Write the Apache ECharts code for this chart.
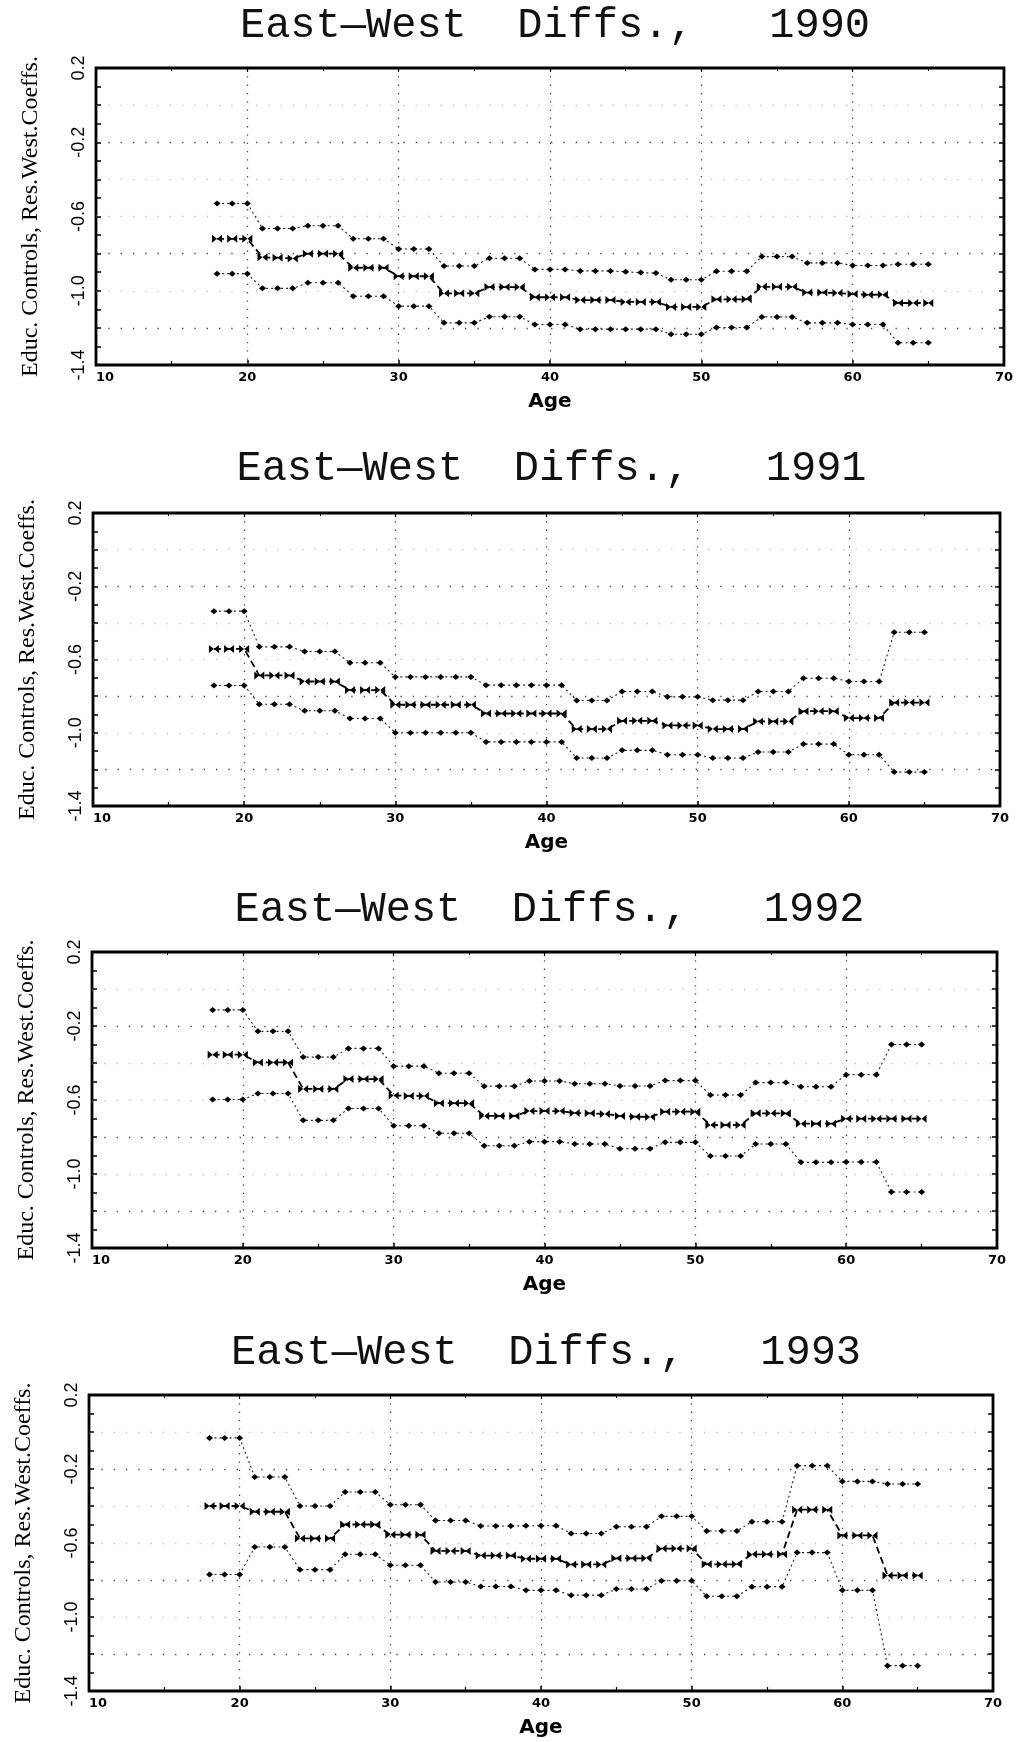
<!DOCTYPE html>
<html>
<head>
<meta charset="utf-8">
<title>East-West Diffs., 1990-1993</title>
<script src="https://cdn.jsdelivr.net/npm/echarts@6/dist/echarts.min.js"></script>
<style>
  html, body { margin: 0; padding: 0; background: #fff; }
  #chart { width: 1016px; height: 1742px; }
</style>
</head>
<body>
<div id="chart"></div>
<script>
// Ages of the respondents (x values shared by every panel)
const AGES = [18,19,20,21,22,23,24,25,26,27,28,29,30,31,32,33,34,35,36,37,38,39,40,41,
              42,43,44,45,46,47,48,49,50,51,52,53,54,55,56,57,58,59,60,61,62,63,64,65];

// Axis ticks
const X_TICKS = [10, 20, 30, 40, 50, 60, 70];
const Y_LABELS = [-1.4, -1.0, -0.6, -0.2, 0.2];

// 1990: upper band, estimate, lower band
const UPPER_1990 = [-0.53,-0.53,-0.53,-0.665,-0.665,-0.665,-0.65,-0.65,-0.65,-0.72,-0.72,-0.72,
  -0.775,-0.775,-0.775,-0.867,-0.867,-0.867,-0.825,-0.825,-0.825,-0.885,-0.885,-0.885,
  -0.893,-0.893,-0.893,-0.898,-0.902,-0.905,-0.941,-0.941,-0.941,-0.895,-0.895,-0.895,
  -0.816,-0.816,-0.816,-0.85,-0.85,-0.85,-0.864,-0.864,-0.864,-0.857,-0.857,-0.857];
const MID_1990 = [-0.72,-0.72,-0.72,-0.82,-0.822,-0.826,-0.80,-0.80,-0.80,-0.876,-0.876,-0.876,
  -0.922,-0.922,-0.922,-1.014,-1.014,-1.014,-0.98,-0.98,-0.98,-1.035,-1.035,-1.035,
  -1.05,-1.05,-1.05,-1.06,-1.06,-1.06,-1.087,-1.087,-1.087,-1.046,-1.046,-1.046,
  -0.979,-0.979,-0.979,-1.01,-1.01,-1.012,-1.018,-1.022,-1.02,-1.066,-1.066,-1.066];
const LOWER_1990 = [-0.908,-0.908,-0.908,-0.987,-0.987,-0.987,-0.957,-0.957,-0.957,-1.03,-1.03,-1.03,
  -1.083,-1.083,-1.083,-1.173,-1.173,-1.173,-1.14,-1.14,-1.14,-1.182,-1.182,-1.182,
  -1.207,-1.207,-1.207,-1.207,-1.207,-1.207,-1.234,-1.234,-1.234,-1.198,-1.198,-1.198,
  -1.141,-1.141,-1.141,-1.173,-1.173,-1.173,-1.182,-1.182,-1.182,-1.28,-1.28,-1.28];

// 1991
const UPPER_1991 = [-0.336,-0.336,-0.336,-0.531,-0.531,-0.531,-0.556,-0.556,-0.556,-0.618,-0.618,-0.618,
  -0.695,-0.695,-0.695,-0.695,-0.695,-0.695,-0.74,-0.74,-0.74,-0.74,-0.74,-0.74,
  -0.824,-0.824,-0.824,-0.775,-0.775,-0.775,-0.804,-0.804,-0.804,-0.822,-0.822,-0.822,
  -0.775,-0.775,-0.775,-0.702,-0.702,-0.702,-0.72,-0.72,-0.72,-0.451,-0.451,-0.451];
const MID_1991 = [-0.542,-0.542,-0.542,-0.687,-0.687,-0.687,-0.72,-0.72,-0.72,-0.767,-0.767,-0.767,
  -0.847,-0.847,-0.847,-0.847,-0.847,-0.847,-0.895,-0.895,-0.895,-0.895,-0.895,-0.895,
  -0.98,-0.98,-0.98,-0.935,-0.935,-0.935,-0.96,-0.96,-0.96,-0.98,-0.98,-0.98,
  -0.938,-0.938,-0.938,-0.882,-0.882,-0.882,-0.92,-0.92,-0.92,-0.835,-0.835,-0.835];
const LOWER_1991 = [-0.742,-0.742,-0.742,-0.844,-0.844,-0.844,-0.88,-0.88,-0.88,-0.922,-0.922,-0.922,
  -1.0,-1.0,-1.0,-1.0,-1.0,-1.0,-1.05,-1.05,-1.05,-1.05,-1.05,-1.05,
  -1.138,-1.138,-1.138,-1.096,-1.096,-1.096,-1.12,-1.12,-1.12,-1.138,-1.138,-1.138,
  -1.105,-1.105,-1.105,-1.062,-1.062,-1.062,-1.12,-1.12,-1.12,-1.215,-1.215,-1.215];

// 1992
const UPPER_1992 = [-0.113,-0.113,-0.113,-0.229,-0.229,-0.229,-0.368,-0.368,-0.368,-0.321,-0.321,-0.321,
  -0.417,-0.417,-0.417,-0.455,-0.455,-0.455,-0.525,-0.525,-0.525,-0.497,-0.497,-0.497,
  -0.512,-0.512,-0.512,-0.524,-0.524,-0.524,-0.495,-0.495,-0.495,-0.573,-0.573,-0.573,
  -0.506,-0.506,-0.506,-0.528,-0.528,-0.528,-0.463,-0.463,-0.463,-0.30,-0.30,-0.30];
const MID_1992 = [-0.355,-0.355,-0.355,-0.397,-0.397,-0.397,-0.54,-0.54,-0.54,-0.487,-0.487,-0.487,
  -0.575,-0.578,-0.578,-0.617,-0.617,-0.617,-0.686,-0.686,-0.686,-0.66,-0.66,-0.66,
  -0.67,-0.672,-0.675,-0.686,-0.69,-0.692,-0.663,-0.663,-0.663,-0.735,-0.735,-0.735,
  -0.672,-0.672,-0.672,-0.728,-0.728,-0.728,-0.701,-0.701,-0.701,-0.701,-0.701,-0.701];
const LOWER_1992 = [-0.597,-0.597,-0.597,-0.565,-0.565,-0.565,-0.71,-0.71,-0.71,-0.646,-0.646,-0.646,
  -0.739,-0.739,-0.739,-0.78,-0.78,-0.78,-0.847,-0.847,-0.847,-0.825,-0.825,-0.825,
  -0.838,-0.838,-0.838,-0.863,-0.863,-0.863,-0.829,-0.829,-0.829,-0.903,-0.903,-0.903,
  -0.838,-0.838,-0.838,-0.937,-0.937,-0.937,-0.935,-0.935,-0.935,-1.097,-1.097,-1.097];

// 1993
const UPPER_1993 = [-0.032,-0.032,-0.032,-0.243,-0.243,-0.243,-0.40,-0.40,-0.40,-0.324,-0.324,-0.324,
  -0.393,-0.393,-0.393,-0.478,-0.478,-0.478,-0.508,-0.508,-0.508,-0.507,-0.507,-0.507,
  -0.549,-0.549,-0.549,-0.512,-0.512,-0.512,-0.456,-0.456,-0.456,-0.535,-0.535,-0.535,
  -0.485,-0.485,-0.485,-0.182,-0.182,-0.182,-0.267,-0.267,-0.267,-0.281,-0.281,-0.281];
const MID_1993 = [-0.40,-0.40,-0.40,-0.431,-0.431,-0.431,-0.575,-0.575,-0.575,-0.50,-0.50,-0.50,
  -0.555,-0.555,-0.555,-0.643,-0.643,-0.643,-0.668,-0.668,-0.668,-0.685,-0.685,-0.685,
  -0.716,-0.716,-0.716,-0.683,-0.683,-0.683,-0.63,-0.63,-0.63,-0.715,-0.715,-0.715,
  -0.661,-0.661,-0.661,-0.42,-0.42,-0.42,-0.559,-0.559,-0.559,-0.775,-0.775,-0.775];
const LOWER_1993 = [-0.77,-0.77,-0.77,-0.622,-0.622,-0.622,-0.744,-0.744,-0.744,-0.661,-0.661,-0.661,
  -0.72,-0.72,-0.72,-0.811,-0.811,-0.811,-0.835,-0.835,-0.835,-0.856,-0.856,-0.856,
  -0.882,-0.882,-0.882,-0.849,-0.849,-0.849,-0.804,-0.804,-0.804,-0.888,-0.888,-0.888,
  -0.836,-0.836,-0.836,-0.652,-0.652,-0.652,-0.856,-0.856,-0.856,-1.263,-1.263,-1.263];

const TITLES = ['East\u2014West  Diffs.,   1990', 'East\u2014West  Diffs.,   1991',
                'East\u2014West  Diffs.,   1992', 'East\u2014West  Diffs.,   1993'];
const X_NAME = 'Age';
const Y_NAME = 'Educ. Controls, Res.West.Coeffs.';

// Panel layout (pixels) and the series that go into each panel
const PANELS = [
  { title: TITLES[0], titleY: 23,   grid: { left: 96, top: 68,   width: 908, height: 297 }, upper: UPPER_1990, mid: MID_1990, lower: LOWER_1990 },
  { title: TITLES[1], titleY: 466,  grid: { left: 93, top: 513,  width: 907, height: 293 }, upper: UPPER_1991, mid: MID_1991, lower: LOWER_1991 },
  { title: TITLES[2], titleY: 907,  grid: { left: 92, top: 952,  width: 905, height: 296 }, upper: UPPER_1992, mid: MID_1992, lower: LOWER_1992 },
  { title: TITLES[3], titleY: 1350, grid: { left: 89, top: 1395, width: 904, height: 296 }, upper: UPPER_1993, mid: MID_1993, lower: LOWER_1993 }
];

const X_MIN = X_TICKS[0], X_MAX = X_TICKS[X_TICKS.length - 1];
const Y_MIN = Y_LABELS[0], Y_MAX = Y_LABELS[Y_LABELS.length - 1];

const CLEAR = 'rgba(0,0,0,0)';
const GRID_DARK = '#444';
const GRID_LIGHT = '#c4c4c4';
// horizontal rules from -1.4 up to 0.2 in steps of 0.2
const H_RULE_COLORS = [CLEAR, GRID_DARK, GRID_LIGHT, GRID_DARK, GRID_LIGHT, GRID_LIGHT, GRID_DARK, GRID_LIGHT, CLEAR];
const V_RULE_COLORS = [CLEAR, GRID_DARK, GRID_DARK, GRID_DARK, GRID_DARK, GRID_DARK, CLEAR];

const BOWTIE = 'path://M0,0L5,4L0,8ZM10,0L5,4L10,8Z';

function pairs(ys) { return AGES.map((a, i) => [a, ys[i]]); }
function yLabel(v) {
  const isLabel = Y_LABELS.some(t => Math.abs(t - v) < 1e-6);
  return isLabel ? v.toFixed(1) : '';
}

const option = {
  backgroundColor: '#fff',
  animation: false,
  title: [], grid: [], xAxis: [], yAxis: [], series: []
};

PANELS.forEach((p, k) => {
  const g = p.grid;
  option.grid.push({
    left: g.left, top: g.top, width: g.width, height: g.height,
    show: true, borderColor: '#000', borderWidth: 2.8, backgroundColor: 'transparent'
  });
  option.title.push({
    text: p.title,
    left: g.left + g.width / 2, top: p.titleY - 23, textAlign: 'center',
    textStyle: { fontFamily: "'Liberation Mono', 'DejaVu Sans Mono', monospace", fontSize: 42, fontWeight: 'normal', color: '#111' }
  });
  // bottom x axis with labels
  option.xAxis.push({
    type: 'value', gridIndex: k, position: 'bottom', min: X_MIN, max: X_MAX, interval: 10,
    name: X_NAME, nameLocation: 'middle', nameGap: 27,
    nameTextStyle: { fontFamily: "'DejaVu Sans', sans-serif", fontWeight: 'bold', fontSize: 20, color: '#000' },
    axisLine: { show: false, onZero: false },
    axisTick: { show: true, inside: true, length: 5, lineStyle: { color: '#000', width: 1.5 } },
    minorTick: { show: true, splitNumber: 2, length: 4, lineStyle: { color: '#000', width: 1.2 } },
    axisLabel: { margin: 6, fontFamily: "'DejaVu Sans', sans-serif", fontWeight: 'bold', fontSize: 13, color: '#000', alignMinLabel: 'left' },
    splitLine: { show: true, lineStyle: { color: V_RULE_COLORS, width: 1.3, type: [1.3, 7] } }
  });
  // top x axis for tick marks only
  option.xAxis.push({
    type: 'value', gridIndex: k, position: 'top', min: X_MIN, max: X_MAX, interval: 10,
    axisLine: { show: false, onZero: false }, axisLabel: { show: false }, splitLine: { show: false },
    axisTick: { show: true, inside: true, length: 4, lineStyle: { color: '#000', width: 1.2 } },
    minorTick: { show: true, splitNumber: 2, length: 3, lineStyle: { color: '#000', width: 1 } }
  });
  // left y axis with labels
  option.yAxis.push({
    type: 'value', gridIndex: k, position: 'left', min: Y_MIN, max: Y_MAX, interval: 0.2,
    name: Y_NAME, nameLocation: 'middle', nameGap: 53, nameRotate: 90,
    nameTextStyle: { fontFamily: "'Liberation Serif', 'DejaVu Serif', serif", fontSize: 24, color: '#000' },
    axisLine: { show: false, onZero: false },
    axisTick: { show: true, inside: true, length: 5, lineStyle: { color: '#000', width: 1.5 } },
    minorTick: { show: true, splitNumber: 2, length: 5, lineStyle: { color: '#000', width: 1.5 } },
    axisLabel: { rotate: 90, margin: 8, formatter: yLabel, fontFamily: "'Liberation Sans Narrow', 'Liberation Sans', sans-serif", fontSize: 18, color: '#000' },
    splitLine: { show: true, lineStyle: { color: H_RULE_COLORS, width: 1.3, type: [1.3, 11] } }
  });
  // right y axis for tick marks only
  option.yAxis.push({
    type: 'value', gridIndex: k, position: 'right', min: Y_MIN, max: Y_MAX, interval: 0.2,
    axisLine: { show: false, onZero: false }, axisLabel: { show: false }, splitLine: { show: false },
    axisTick: { show: true, inside: true, length: 5, lineStyle: { color: '#000', width: 1.5 } },
    minorTick: { show: true, splitNumber: 2, length: 5, lineStyle: { color: '#000', width: 1.5 } }
  });

  const xi = 2 * k, yi = 2 * k;
  const band = (name, ys) => ({
    name, type: 'line', xAxisIndex: xi, yAxisIndex: yi, data: pairs(ys),
    symbol: 'diamond', symbolSize: [7, 6], showSymbol: true,
    itemStyle: { color: '#000' },
    lineStyle: { color: '#222', width: 1.1, type: [2, 3] },
    silent: true, z: 3
  });
  option.series.push(band('upper', p.upper));
  option.series.push({
    name: 'estimate', type: 'line', xAxisIndex: xi, yAxisIndex: yi, data: pairs(p.mid),
    symbol: BOWTIE, symbolSize: [10, 8], showSymbol: true,
    itemStyle: { color: '#000' },
    lineStyle: { color: '#000', width: 1.8, type: [7, 4] },
    silent: true, z: 4
  });
  option.series.push(band('lower', p.lower));
});

const chart = echarts.init(document.getElementById('chart'), null, { renderer: 'canvas' });
chart.setOption(option);
</script>
</body>
</html>
